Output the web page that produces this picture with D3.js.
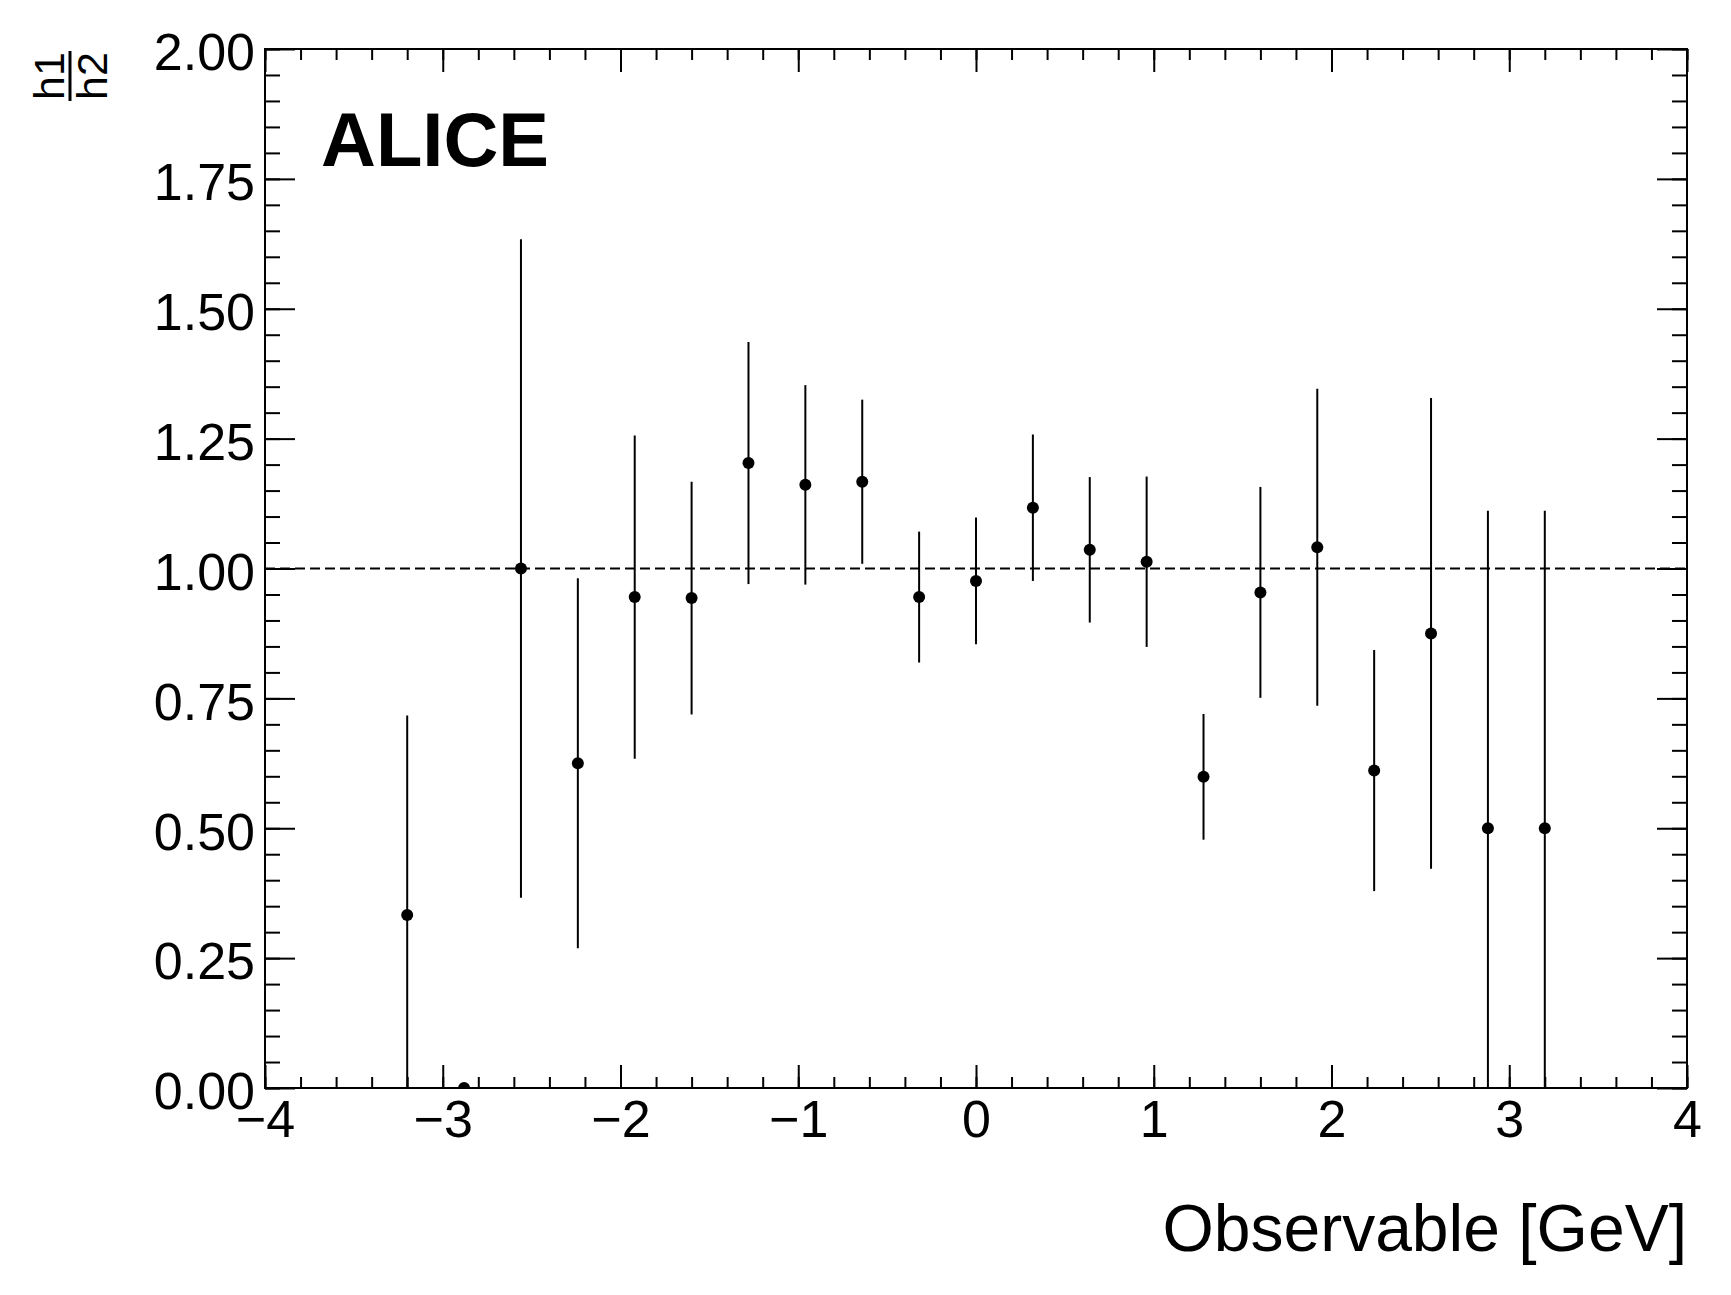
<!DOCTYPE html>
<html>
<head>
<meta charset="utf-8">
<script src="https://cdn.jsdelivr.net/npm/d3@7"></script>
<style>
  body { margin: 0; background: #fff; }
  text { font-family: "Liberation Sans", Arial, Helvetica, sans-serif; fill: #000; }
</style>
</head>
<body>
<div id="viz"></div>
<script>
// bin centres of the ratio histogram (bins of 0.32 between -4 and 4)
var binCenters = [-3.2, -2.88, -2.56, -2.24, -1.92, -1.6, -1.28, -0.96, -0.64, -0.32,
                  0, 0.32, 0.64, 0.96, 1.28, 1.6, 1.92, 2.24, 2.56, 2.88, 3.2];
// h1/h2 ratio and its error
var ratio = [0.333, 0, 1.0, 0.625, 0.945, 0.943, 1.203, 1.161, 1.167, 0.945,
             0.976, 1.117, 1.036, 1.013, 0.599, 0.954, 1.041, 0.611, 0.875, 0.5, 0.5];
var ratioErr = [0.384, 0, 0.634, 0.356, 0.311, 0.224, 0.233, 0.192, 0.158, 0.126,
                0.122, 0.141, 0.14, 0.164, 0.121, 0.203, 0.305, 0.232, 0.453, 0.611, 0.611];
var xTicks = [-4, -3, -2, -1, 0, 1, 2, 3, 4];
var yTicks = [0, 0.25, 0.5, 0.75, 1, 1.25, 1.5, 1.75, 2];
var referenceLine = 1;

var width = 1731, height = 1295;
var frameL = 265, frameR = 1687, frameT = 49, frameB = 1088;

var svg = d3.select("#viz").append("svg")
    .attr("width", width)
    .attr("height", height);

var x = d3.scaleLinear().domain([-4, 4]).range([frameL, frameR]);
var y = d3.scaleLinear().domain([0, 2]).range([frameB, frameT]);

var xMinor = d3.range(-4, 4.0001, 0.2);
var yMinor = d3.range(0, 2.0001, 0.05);

function styleAxis(g) {
  g.select(".domain").remove();
  g.selectAll(".tick line").attr("stroke", "#000").attr("stroke-width", 2);
}

// minor ticks, all four sides
svg.append("g").attr("transform", "translate(0," + frameB + ")")
  .call(d3.axisBottom(x).tickValues(xMinor).tickSize(-11).tickFormat(""))
  .call(styleAxis);
svg.append("g").attr("transform", "translate(0," + frameT + ")")
  .call(d3.axisTop(x).tickValues(xMinor).tickSize(-11).tickFormat(""))
  .call(styleAxis);
svg.append("g").attr("transform", "translate(" + frameL + ",0)")
  .call(d3.axisLeft(y).tickValues(yMinor).tickSize(-15).tickFormat(""))
  .call(styleAxis);
svg.append("g").attr("transform", "translate(" + frameR + ",0)")
  .call(d3.axisRight(y).tickValues(yMinor).tickSize(-15).tickFormat(""))
  .call(styleAxis);

// major ticks with labels
var xAxis = svg.append("g").attr("transform", "translate(0," + frameB + ")")
  .call(d3.axisBottom(x).tickValues(xTicks).tickSize(-23).tickPadding(12).tickFormat(d3.format("d")))
  .call(styleAxis);
xAxis.selectAll(".tick text").attr("font-size", 52).attr("dy", "0.72em");

svg.append("g").attr("transform", "translate(0," + frameT + ")")
  .call(d3.axisTop(x).tickValues(xTicks).tickSize(-23).tickFormat(""))
  .call(styleAxis);

var yAxis = svg.append("g").attr("transform", "translate(" + frameL + ",0)")
  .call(d3.axisLeft(y).tickValues(yTicks).tickSize(-30).tickPadding(10).tickFormat(d3.format(".2f")))
  .call(styleAxis);
yAxis.selectAll(".tick text").attr("font-size", 52).attr("dy", "0.4em");

svg.append("g").attr("transform", "translate(" + frameR + ",0)")
  .call(d3.axisRight(y).tickValues(yTicks).tickSize(-30).tickFormat(""))
  .call(styleAxis);

// frame
svg.append("rect")
  .attr("x", frameL).attr("y", frameT)
  .attr("width", frameR - frameL).attr("height", frameB - frameT)
  .attr("fill", "none").attr("stroke", "#000").attr("stroke-width", 2);

svg.append("clipPath").attr("id", "frameClip")
  .append("rect")
  .attr("x", frameL).attr("y", frameT)
  .attr("width", frameR - frameL).attr("height", frameB - frameT);

var plot = svg.append("g").attr("clip-path", "url(#frameClip)");

// dashed line at unity
plot.append("line")
  .attr("x1", x(-4)).attr("x2", x(4))
  .attr("y1", y(referenceLine)).attr("y2", y(referenceLine))
  .attr("stroke", "#000").attr("stroke-width", 2)
  .attr("stroke-dasharray", "10,5");

var points = binCenters.map(function (c, i) {
  return { x: c, v: ratio[i], e: ratioErr[i] };
});

plot.selectAll("line.err").data(points.filter(function (d) { return d.e > 0; }))
  .enter().append("line")
  .attr("class", "err")
  .attr("x1", function (d) { return x(d.x); })
  .attr("x2", function (d) { return x(d.x); })
  .attr("y1", function (d) { return y(d.v - d.e); })
  .attr("y2", function (d) { return y(d.v + d.e); })
  .attr("stroke", "#000").attr("stroke-width", 2);

plot.selectAll("circle").data(points)
  .enter().append("circle")
  .attr("cx", function (d) { return x(d.x); })
  .attr("cy", function (d) { return y(d.v); })
  .attr("r", 6)
  .attr("fill", "#000");

// ALICE label
svg.append("text")
  .attr("x", 321).attr("y", 166)
  .attr("font-size", 76).attr("font-weight", "bold")
  .text("ALICE");

// x axis title
svg.append("text")
  .attr("x", frameR).attr("y", 1251)
  .attr("text-anchor", "end")
  .attr("font-size", 66)
  .text("Observable [GeV]");

// y axis title: h1 over h2, rotated
var yt = svg.append("g").attr("transform", "translate(70,76) rotate(-90)");
yt.append("text").attr("x", 0).attr("y", -6)
  .attr("text-anchor", "middle").attr("font-size", 43).text("h1");
yt.append("line").attr("x1", -25).attr("x2", 25).attr("y1", 0).attr("y2", 0)
  .attr("stroke", "#000").attr("stroke-width", 3);
yt.append("text").attr("x", 0).attr("y", 37)
  .attr("text-anchor", "middle").attr("font-size", 43).text("h2");
</script>
</body>
</html>
